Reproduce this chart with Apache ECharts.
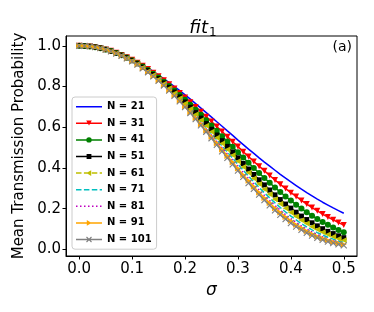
<!DOCTYPE html>
<html><head><meta charset="utf-8">
<script src="https://cdn.jsdelivr.net/npm/echarts@6/dist/echarts.min.js"></script>
<style>html,body{margin:0;padding:0;background:#fff}#c{width:374px;height:312px}</style>
</head><body><div id="c"></div>
<script>
const sigma = [0.00,0.01,0.02,0.03,0.04,0.05,0.06,0.07,0.08,0.09,
  0.10,0.11,0.12,0.13,0.14,0.15,0.16,0.17,0.18,0.19,
  0.20,0.21,0.22,0.23,0.24,0.25,0.26,0.27,0.28,0.29,
  0.30,0.31,0.32,0.33,0.34,0.35,0.36,0.37,0.38,0.39,
  0.40,0.41,0.42,0.43,0.44,0.45,0.46,0.47,0.48,0.49,0.50];
const n21 = [1.000,0.999,0.997,0.994,0.989,0.983,0.976,0.967,0.957,0.946,
  0.933,0.920,0.905,0.890,0.874,0.856,0.838,0.819,0.800,0.780,
  0.759,0.738,0.716,0.694,0.672,0.650,0.627,0.605,0.582,0.560,
  0.537,0.515,0.493,0.472,0.450,0.429,0.409,0.389,0.369,0.350,
  0.332,0.314,0.296,0.279,0.263,0.247,0.232,0.218,0.204,0.191,0.178];
const n31 = [1.000,0.999,0.997,0.994,0.989,0.982,0.975,0.966,0.955,0.944,
  0.931,0.917,0.902,0.886,0.868,0.850,0.831,0.811,0.790,0.768,
  0.746,0.723,0.700,0.676,0.652,0.628,0.604,0.579,0.554,0.529,
  0.505,0.480,0.456,0.432,0.409,0.386,0.363,0.341,0.320,0.299,
  0.279,0.260,0.241,0.223,0.206,0.190,0.174,0.159,0.146,0.132,0.120];
const n41 = [1.000,0.999,0.997,0.993,0.988,0.982,0.974,0.965,0.954,0.942,
  0.929,0.914,0.898,0.881,0.863,0.844,0.824,0.803,0.781,0.758,
  0.735,0.711,0.686,0.661,0.635,0.609,0.583,0.556,0.530,0.504,
  0.477,0.451,0.426,0.400,0.375,0.351,0.327,0.304,0.282,0.260,
  0.240,0.220,0.201,0.183,0.166,0.150,0.135,0.121,0.108,0.096,0.085];
const n51 = [1.000,0.999,0.997,0.993,0.988,0.981,0.973,0.964,0.953,0.941,
  0.927,0.912,0.895,0.878,0.859,0.839,0.818,0.796,0.773,0.749,
  0.724,0.698,0.672,0.645,0.618,0.590,0.562,0.534,0.506,0.478,
  0.450,0.422,0.395,0.368,0.342,0.317,0.292,0.268,0.245,0.223,
  0.203,0.183,0.164,0.147,0.131,0.116,0.102,0.089,0.078,0.067,0.058];
const n61 = [1.000,0.999,0.997,0.993,0.988,0.981,0.973,0.963,0.952,0.940,
  0.926,0.910,0.893,0.875,0.856,0.836,0.814,0.791,0.767,0.742,
  0.717,0.690,0.663,0.635,0.607,0.578,0.549,0.520,0.491,0.462,
  0.433,0.405,0.377,0.349,0.322,0.296,0.271,0.247,0.224,0.203,
  0.182,0.162,0.144,0.128,0.112,0.098,0.085,0.073,0.063,0.053,0.045];
const n71 = [1.000,0.999,0.997,0.993,0.988,0.981,0.973,0.963,0.952,0.939,
  0.925,0.909,0.892,0.874,0.854,0.833,0.811,0.787,0.763,0.737,
  0.711,0.684,0.656,0.627,0.598,0.568,0.538,0.508,0.478,0.448,
  0.418,0.389,0.360,0.332,0.305,0.278,0.253,0.229,0.206,0.184,
  0.164,0.145,0.127,0.111,0.096,0.083,0.071,0.060,0.051,0.042,0.035];
const n81 = [1.000,0.999,0.997,0.993,0.988,0.981,0.973,0.963,0.951,0.939,
  0.924,0.908,0.891,0.873,0.853,0.831,0.809,0.785,0.760,0.734,
  0.707,0.679,0.650,0.621,0.591,0.561,0.530,0.499,0.468,0.438,
  0.407,0.378,0.348,0.320,0.292,0.265,0.240,0.216,0.193,0.171,
  0.151,0.133,0.115,0.100,0.086,0.073,0.062,0.052,0.043,0.035,0.029];
const n91 = [1.000,0.999,0.997,0.993,0.988,0.981,0.973,0.963,0.951,0.938,
  0.924,0.908,0.890,0.871,0.851,0.830,0.807,0.782,0.757,0.730,
  0.703,0.674,0.645,0.615,0.584,0.553,0.522,0.491,0.459,0.428,
  0.397,0.366,0.337,0.308,0.280,0.253,0.228,0.203,0.181,0.159,
  0.140,0.121,0.105,0.090,0.076,0.064,0.054,0.045,0.037,0.030,0.024];
const n101 = [1.000,0.999,0.997,0.993,0.988,0.981,0.972,0.962,0.951,0.938,
  0.923,0.907,0.889,0.870,0.850,0.828,0.805,0.780,0.754,0.727,
  0.699,0.670,0.640,0.609,0.578,0.546,0.514,0.482,0.450,0.418,
  0.387,0.356,0.326,0.297,0.269,0.242,0.216,0.192,0.170,0.149,
  0.129,0.112,0.096,0.081,0.068,0.057,0.047,0.039,0.031,0.025,0.020];
const seriesNames = ['N = 21','N = 31','N = 41','N = 51','N = 61','N = 71','N = 81','N = 91','N = 101'];
const seriesValues = [n21,n31,n41,n51,n61,n71,n81,n91,n101];
const xTicks = [0,0.1,0.2,0.3,0.4,0.5];
const yTicks = [0,0.2,0.4,0.6,0.8,1.0];
const titleMain = 'fit';
const titleSub = '1';
const panelLabel = '(a)';
const xName = 'σ';
const yName = 'Mean Transmission Probability';

const FONT = 'DejaVu Sans';
// legend icon pieces (26 x 12 box)
const BOX = 'M0,0h0.01v0.01h-0.01zM25.99,11.99h0.01v0.01h-0.01z';
const SOLID = 'M0,5.25h26v1.5h-26z';
const DASH = 'M0,5.25h5.5v1.5h-5.5zM7.9,5.25h5.5v1.5h-5.5zM15.8,5.25h5.5v1.5h-5.5zM23.7,5.25h2.3v1.5h-2.3z';
const DOT = 'M0,5.25h1.5v1.5h-1.5zM4,5.25h1.5v1.5h-1.5zM8,5.25h1.5v1.5h-1.5zM12,5.25h1.5v1.5h-1.5zM16,5.25h1.5v1.5h-1.5zM20,5.25h1.5v1.5h-1.5zM24,5.25h1.5v1.5h-1.5z';
const M_DOWN = 'M10.2,3.2L15.8,3.2L13,8.1z';
const M_CIRC = 'M15.7,6A2.7,2.7 0 1 1 10.3,6A2.7,2.7 0 1 1 15.7,6z';
const M_SQ = 'M10.6,3.6h4.8v4.8h-4.8z';
const M_LEFT = 'M10.4,6L15.2,3.2L15.2,8.8z';
const M_RIGHT = 'M15.6,6L10.8,8.8L10.8,3.2z';
const M_X = 'M10.1,3.9L10.9,3.1L15.9,8.1L15.1,8.9zM15.1,3.1L15.9,3.9L10.9,8.9L10.1,8.1z';

const styles = [
  {color:'#0000ff', symbol:'none', icon: BOX + SOLID},
  {color:'#ff0000', symbol:'triangle', rotate:180, icon: BOX + SOLID + M_DOWN},
  {color:'#008000', symbol:'circle', icon: BOX + SOLID + M_CIRC},
  {color:'#000000', symbol:'rect', icon: BOX + SOLID + M_SQ},
  {color:'#bfbf00', symbol:'triangle', rotate:90, dash:[5.5,2.4], icon: BOX + DASH + M_LEFT},
  {color:'#00bfbf', symbol:'none', dash:[5.5,2.4], icon: BOX + DASH},
  {color:'#bf00bf', symbol:'none', dash:[1.5,2.5], icon: BOX + DOT},
  {color:'#ffa500', symbol:'triangle', rotate:-90, icon: BOX + SOLID + M_RIGHT},
  {color:'#808080', symbol:'path://M0,0L10,10M10,0L0,10', stroke:true, icon: BOX + SOLID + M_X}
];

const series = seriesNames.map((name, i) => {
  const s = styles[i];
  return {
    name: name,
    type: 'line',
    data: sigma.map((x, k) => [x, seriesValues[i][k]]),
    symbol: s.symbol,
    symbolSize: s.symbol === 'rect' ? 5 : 6,
    symbolRotate: s.rotate || 0,
    showSymbol: s.symbol !== 'none',
    showAllSymbol: true,
    lineStyle: {color: s.color, width: 1.5, type: s.dash ? s.dash : 'solid'},
    itemStyle: s.stroke ? {color: s.color, borderColor: s.color, borderWidth: 1.1} : {color: s.color, borderWidth: 0},
    emphasis: {disabled: true},
    animation: false,
    clip: true
  };
});

const chart = echarts.init(document.getElementById('c'), null, {renderer: 'canvas'});
chart.setOption({
  animation: false,
  backgroundColor: '#ffffff',
  grid: {left: 66, top: 36, width: 291, height: 220, show: true, borderColor: '#000', borderWidth: 1, backgroundColor: 'transparent', containLabel: false},
  xAxis: {
    type: 'value', min: -0.025, max: 0.525,
    axisLine: {show: true, onZero: false, lineStyle: {color: '#000', width: 1}},
    axisTick: {show: true, inside: false, length: 3.5, customValues: xTicks, lineStyle: {color: '#000', width: 1}},
    axisLabel: {customValues: xTicks, formatter: v => v.toFixed(1), fontSize: 15, color: '#000', fontFamily: FONT, margin: 6},
    splitLine: {show: false},
    name: xName, nameLocation: 'middle', nameGap: 23,
    nameTextStyle: {fontSize: 17, fontStyle: 'italic', color: '#000', fontFamily: FONT}
  },
  yAxis: {
    type: 'value', min: -0.032, max: 1.048,
    axisLine: {show: true, onZero: false, lineStyle: {color: '#000', width: 1}},
    axisTick: {show: true, inside: false, length: 3.5, customValues: yTicks, lineStyle: {color: '#000', width: 1}},
    axisLabel: {customValues: yTicks, formatter: v => v.toFixed(1), fontSize: 15, color: '#000', fontFamily: FONT, margin: 5},
    splitLine: {show: false},
    name: yName, nameLocation: 'middle', nameGap: 29,
    nameTextStyle: {fontSize: 15, color: '#000', fontFamily: FONT}
  },
  legend: {
    orient: 'vertical', left: 72, top: 97,
    data: seriesNames.map((n, i) => ({name: n, icon: 'path://' + styles[i].icon})),
    itemWidth: 26, itemHeight: 12, itemGap: 4.6,
    symbolKeepAspect: false,
    itemStyle: {borderWidth: 0},
    padding: [3.7, 5, 3.7, 4],
    backgroundColor: 'rgba(255,255,255,0.8)',
    borderColor: '#cccccc', borderWidth: 1, borderRadius: 3,
    textStyle: {fontSize: 10, fontWeight: 'bold', color: '#000', fontFamily: FONT},
    selectedMode: false
  },
  graphic: [
    {type: 'text', x: 208, y: 28, style: {text: titleMain, font: 'italic 18px "DejaVu Sans"', fill: '#000', align: 'right', verticalAlign: 'middle'}},
    {type: 'text', x: 209, y: 33, style: {text: titleSub, font: '12px "DejaVu Sans"', fill: '#000', align: 'left', verticalAlign: 'middle'}},
    {type: 'text', x: 352, y: 47, style: {text: panelLabel, font: '14px "DejaVu Sans"', fill: '#000', align: 'right', verticalAlign: 'middle'}}
  ],
  series: series
});
</script>
</body></html>
